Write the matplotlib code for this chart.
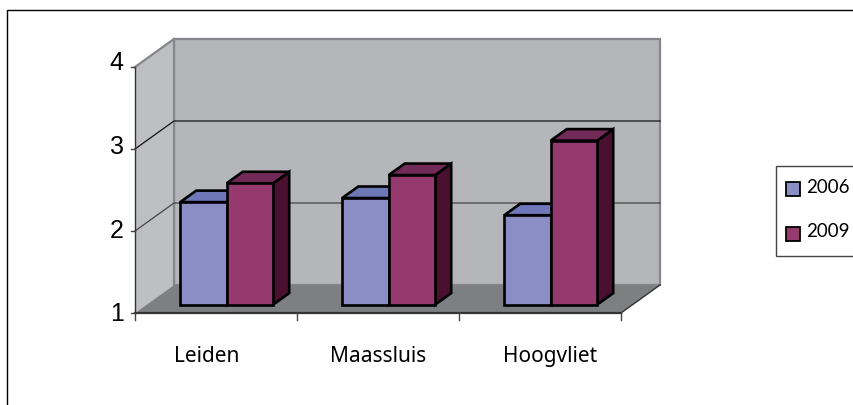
import matplotlib
matplotlib.use('Agg')
import matplotlib.pyplot as plt
from matplotlib.patches import Polygon, Rectangle

categories = ['Leiden', 'Maassluis', 'Hoogvliet']
values_2006 = [2.25, 2.3, 2.09]
values_2009 = [2.48, 2.58, 3.0]
y_ticks = [1, 2, 3, 4]

W, H = 854, 406

# shear of the 3d box, in data units per unit of depth
DEPTH_X = 39 / 162
DEPTH_Y = 28 / 82

BAR_LEFT = 0.207
BAR_WIDTH = 0.287
BAR_D0, BAR_D1 = 0.30, 0.71

fig = plt.figure(figsize=(W / 100, H / 100), dpi=100, facecolor='white')
ax = fig.add_axes([135 / W, 1 - 314 / H, 486 / W, 246 / H])
ax.set_xlim(0, 3)
ax.set_ylim(1, 4)
ax.axis('off')


def pt(x, v, d=0.0):
    return (x + d * DEPTH_X, v + d * DEPTH_Y)


def quad(points, color, lw=0.0, ec='none', z=1):
    ax.add_patch(Polygon(points, closed=True, fc=color, ec=ec, lw=lw,
                         zorder=z, clip_on=False, joinstyle='miter'))


def bar3d(x, v, front, top, side, z):
    x0, x1 = x, x + BAR_WIDTH
    d0, d1 = BAR_D0, BAR_D1
    quad([pt(x1, 1, d0), pt(x1, 1, d1), pt(x1, v, d1), pt(x1, v, d0)], side, 1.9, 'black', z)
    quad([pt(x0, v, d0), pt(x1, v, d0), pt(x1, v, d1), pt(x0, v, d1)], top, 1.9, 'black', z)
    quad([pt(x0, 1, d0), pt(x1, 1, d0), pt(x1, v, d0), pt(x0, v, d0)], front, 1.9, 'black', z)


# walls and floor
quad([pt(0, 1, 1), pt(3, 1, 1), pt(3, 4, 1), pt(0, 4, 1)], '#b5b6ba', 1.6, '#86878c', 1)
quad([pt(0, 1), pt(0, 1, 1), pt(0, 4, 1), pt(0, 4)], '#bebfc2', 0, 'none', 1)
ax.plot(*zip(pt(0, 4), pt(0, 4, 1)), color='#86878c', lw=1.6, zorder=2, clip_on=False)
ax.plot(*zip(pt(0, 1, 1), pt(0, 4, 1)), color='#86878c', lw=1.6, zorder=2, clip_on=False)
quad([pt(0, 1), pt(3, 1), pt(3, 1, 1), pt(0, 1, 1)], '#7e7f83', 0, 'none', 2)

# gridlines run along the side wall and across the back wall
for v, grid_color in zip(y_ticks[1:-1], ['#444444', '#111111']):
    ax.plot(*zip(pt(0, v), pt(0, v, 1), pt(3, v, 1)), color=grid_color, lw=0.9, zorder=2, clip_on=False)

# axis lines, ticks and labels
ax.plot([0, 0], [1, 4], color='#333333', lw=1.0, zorder=3, clip_on=False)
ax.plot([0, 3], [1, 1], color='#333333', lw=1.6, zorder=3, clip_on=False)
ax.plot(*zip(pt(3, 1), pt(3, 1, 1)), color='#333333', lw=1.0, zorder=3, clip_on=False)
for v in y_ticks:
    ax.plot([-0.022, 0], [v, v], color='#444444', lw=1.0, zorder=3, clip_on=False)
    ax.text(-0.112, v - 0.025 + 0.02 * v, str(v), ha='center', va='center', fontsize=18,
            family='Liberation Sans', color='black')
for i in range(len(categories) + 1):
    ax.plot([i, i], [1, 0.92], color='#444444', lw=1.0, zorder=3, clip_on=False)
for i, name in enumerate(categories):
    ax.text(i * 1.0617 + 0.442, 0.485, name, ha='center', va='center', fontsize=15,
            family='Noto Sans', color='black')

# bars, each group back to front
for i in range(len(categories)):
    bar3d(i + BAR_LEFT, values_2006[i], '#8b8ec4', '#6e78b8', '#4a4f80', 4)
    bar3d(i + BAR_LEFT + BAR_WIDTH, values_2009[i], '#95396e', '#722a58', '#4a1030', 5)

# legend box
fig.add_artist(Rectangle((776.5 / W, 1 - 256.5 / H), 90 / W, 90 / H, fc='white', ec='#444444',
                         lw=1.0, transform=fig.transFigure))
for y, text_y, color, label in [(190, 188, '#8b8ec4', '2006'), (235, 232, '#95396e', '2009')]:
    fig.add_artist(Rectangle((786 / W, 1 - (y + 7) / H), 14 / W, 14 / H, fc=color, ec='black',
                             lw=1.3, transform=fig.transFigure))
    fig.text(806 / W, 1 - text_y / H, label, ha='left', va='center', fontsize=13.5,
             family='Lato', color='black')

# chart frame
fig.add_artist(plt.Line2D([7.5 / W, 7.5 / W, 1], [0, 1 - 10.5 / H, 1 - 10.5 / H],
                          color='black', lw=1.0, transform=fig.transFigure))

fig.savefig('out.png', dpi=100)
